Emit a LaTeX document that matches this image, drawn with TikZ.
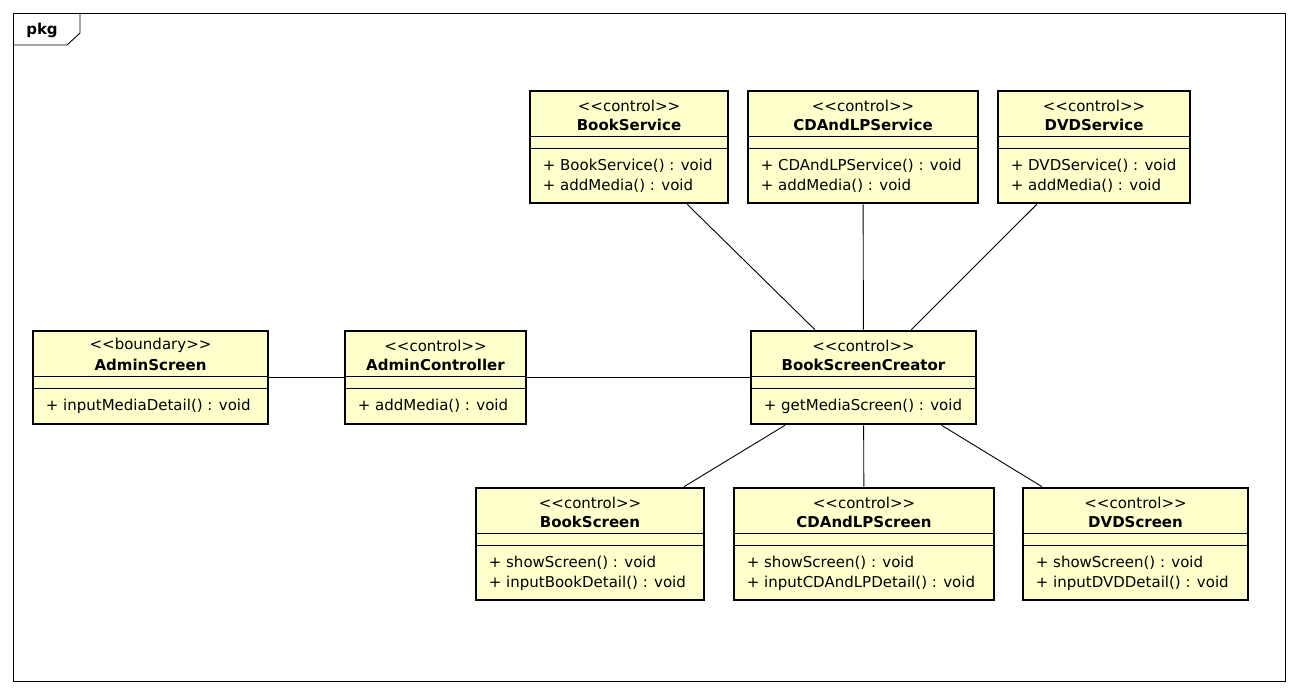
\documentclass[tikz,border=0pt]{standalone}
\usepackage{fontspec}
\setmainfont{DejaVu Sans}
\definecolor{classfill}{HTML}{FFFFCC}
\tikzset{
  clsbox/.style={draw, line width=2.7pt, fill=classfill, inner sep=0pt, rectangle},
  sepline/.style={line width=1.1pt},
  stereo/.style={font=\fontsize{15}{17}\selectfont, inner sep=0pt},
  clsname/.style={font=\fontsize{15}{17}\selectfont\bfseries, inner sep=0pt},
  methods/.style={font=\fontsize{15}{20}\selectfont, inner sep=0pt, align=left, anchor=north west},
  assoc/.style={line width=0.9pt},
  frame/.style={line width=0.9pt}
}
% \umlclass{id}{x1}{y1}{x2}{y2}{stereotype}{class name}{operations}
\newcommand\umlclass[8]{%
  \node[clsbox, minimum width={#4-#2}, minimum height={#5-#3}] (#1) at ({(#2+#4)/2},{(#3+#5)/2}) {};
  \node[stereo] (#1-st) at ([yshift=-16pt]#1.north) {<{}<#6>{}>};
  \node[clsname] (#1-nm) at ([yshift=-35.5pt]#1.north) {#7};
  \draw[sepline] ([yshift=-47pt]#1.north west) -- ([yshift=-47pt]#1.north east);
  \draw[sepline] ([yshift=-58.5pt]#1.north west) -- ([yshift=-58.5pt]#1.north east);
  \node[methods] (#1-op) at ([xshift=14pt,yshift=-69.5pt]#1.north west) {#8};
}
\begin{document}
\begin{tikzpicture}[x=1pt,y=-1pt]
\useasboundingbox (0,0) rectangle (1298,693);
\fill[white] (0,0) rectangle (1298,693);

% package frame with its name tab
\draw[frame] (13,13) rectangle (1285,681);
\draw[frame] (13,45) -- (67,45) -- (80,33) -- (80,13);
\node[font=\fontsize{15}{17}\selectfont\bfseries, inner sep=0pt] (pkg) at (42,30) {pkg};

% services
\umlclass{bsv}{530}{91}{728}{203}{control}{BookService}{+ BookService() : void\\+ addMedia() : void}
\umlclass{csv}{748}{91}{978}{203}{control}{CDAndLPService}{+ CDAndLPService() : void\\+ addMedia() : void}
\umlclass{dsv}{998}{91}{1190}{203}{control}{DVDService}{+ DVDService() : void\\+ addMedia() : void}

% admin side and the creator
\umlclass{ascr}{33}{331}{268}{424}{boundary}{AdminScreen}{+ inputMediaDetail() : void}
\umlclass{actl}{345}{331}{526}{424}{control}{AdminController}{+ addMedia() : void}
\umlclass{bsc}{751}{331}{976}{424}{control}{BookScreenCreator}{+ getMediaScreen() : void}

% screens
\umlclass{bscr}{476}{488}{704}{600}{control}{BookScreen}{+ showScreen() : void\\+ inputBookDetail() : void}
\umlclass{cscr}{734}{488}{994}{600}{control}{CDAndLPScreen}{+ showScreen() : void\\+ inputCDAndLPDetail() : void}
\umlclass{dscr}{1023}{488}{1248}{600}{control}{DVDScreen}{+ showScreen() : void\\+ inputDVDDetail() : void}

% associations
\draw[assoc] (ascr) -- (actl);
\draw[assoc] (actl) -- (bsc);
\draw[assoc] (bsv) -- (bsc);
\draw[assoc] (csv) -- (bsc);
\draw[assoc] (dsv) -- (bsc);
\draw[assoc] (bsc) -- (bscr);
\draw[assoc] (bsc) -- (cscr);
\draw[assoc] (bsc) -- (dscr);
\end{tikzpicture}
\end{document}
